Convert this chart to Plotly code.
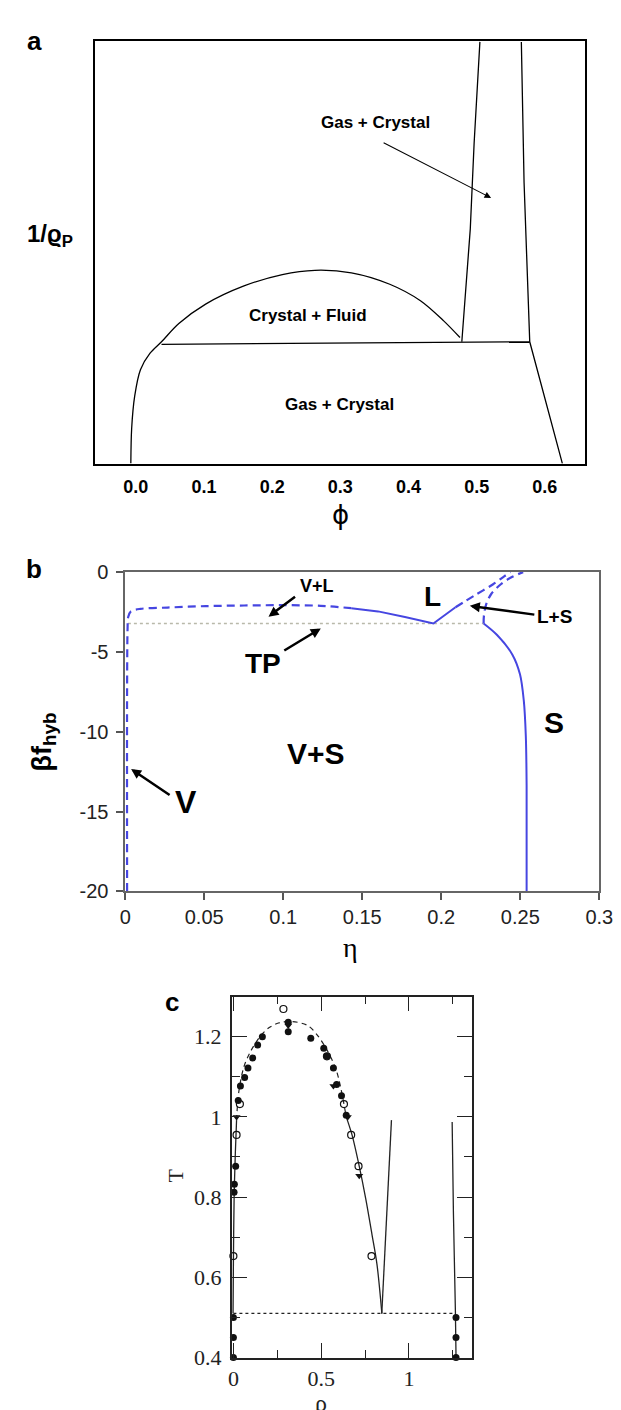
import plotly.graph_objects as go

W, H = 621, 1410

# ---------------- Panel a data ----------------
a_left_phi = [-0.0073, -0.0061, -0.0016, 0.0068, 0.0209, 0.0377, 0.0631, 0.1024, 0.1587,
              0.2149, 0.2628, 0.3162, 0.3725, 0.4175, 0.4512, 0.4755]
a_left_y = [0.0, 0.083, 0.160, 0.222, 0.261, 0.288, 0.331, 0.377, 0.420,
            0.447, 0.457, 0.451, 0.424, 0.385, 0.338, 0.298]
a_tie_phi = [0.0377, 0.4782, 0.5778]
a_tie_y = [0.282, 0.287, 0.288]
a_colL_phi = [0.4782, 0.4906, 0.4962, 0.5047]
a_colL_y = [0.288, 0.555, 0.757, 0.997]
a_colR_phi = [0.5655, 0.5695, 0.5778, 0.6257]
a_colR_y = [0.997, 0.664, 0.288, 0.0]
a_xticks = [0.0, 0.1, 0.2, 0.3, 0.4, 0.5, 0.6]

# ---------------- Panel b data ----------------
b_vl_eta = [0.0012, 0.0012, 0.0015, 0.0019, 0.0036, 0.0097, 0.0267, 0.051, 0.0752, 0.0994, 0.1237, 0.143]
b_vl_f = [-20, -7.2, -3.53, -2.81, -2.46, -2.30, -2.22, -2.13, -2.09, -2.07, -2.11, -2.26]
b_lsol_eta = [0.143, 0.160, 0.177, 0.195, 0.209]
b_lsol_f = [-2.26, -2.46, -2.81, -3.22, -2.2]
b_ldash_eta = [0.209, 0.2207, 0.2328, 0.240, 0.2438]
b_ldash_f = [-2.2, -1.48, -0.76, -0.25, 0.0]
b_sdash_eta = [0.2268, 0.2270, 0.2285, 0.2316, 0.2377, 0.245, 0.2518]
b_sdash_f = [-3.22, -2.71, -1.99, -1.37, -0.76, -0.29, 0.0]
b_ssol_eta = [0.2268, 0.2353, 0.245, 0.2498, 0.2522, 0.2535, 0.254, 0.254]
b_ssol_f = [-3.22, -3.94, -5.17, -6.4, -8.04, -10.3, -13.4, -20]
b_tp_eta = [0.0017, 0.2268]
b_tp_f = [-3.22, -3.22]
b_yticks = [0, -5, -10, -15, -20]
b_yticktext = ["0", "-5", "-10", "-15", "-20"]

# ---------------- Panel c data ----------------
c_dash_rho = [0.018, 0.03, 0.06, 0.10, 0.157, 0.202, 0.257, 0.33, 0.4225, 0.478, 0.533, 0.588, 0.643]
c_dash_T = [0.992, 1.06, 1.125, 1.165, 1.203, 1.222, 1.234, 1.238, 1.228, 1.204, 1.167, 1.114, 1.0]
c_gas_rho = [-0.002, 0.0, 0.004, 0.011, 0.018]
c_gas_T = [0.51, 0.633, 0.796, 0.91, 0.992]
c_liq_rho = [0.643, 0.676, 0.717, 0.754, 0.790, 0.818, 0.846]
c_liq_T = [1.0, 0.955, 0.877, 0.796, 0.706, 0.633, 0.510]
c_melt_rho = [0.8455, 0.9007]
c_melt_T = [0.509, 0.992]
c_sol_rho = [1.2466, 1.2537, 1.265, 1.2686]
c_sol_T = [0.9875, 0.763, 0.518, 0.404]
c_trip_rho = [0.0, 1.2686]
c_trip_T = [0.51, 0.51]
c_fill_rho = [0, 0, 0, 1.2686, 1.2686, 1.2686, 0.0037, 0.0055, 0.0129, 0.0276, 0.040, 0.064,
              0.083, 0.11, 0.138, 0.165, 0.3125, 0.3125, 0.441, 0.515, 0.533, 0.57, 0.588, 0.616, 0.643]
c_fill_T = [0.4, 0.45, 0.5, 0.4, 0.45, 0.5, 0.812, 0.832, 0.877, 1.041, 1.077, 1.098,
            1.122, 1.147, 1.179, 1.2, 1.236, 1.212, 1.196, 1.171, 1.151, 1.122, 1.081, 1.053, 1.004]
c_open_rho = [0.0, 0.018, 0.037, 0.285, 0.533, 0.63, 0.671, 0.713, 0.787]
c_open_T = [0.653, 0.955, 1.032, 1.269, 1.151, 1.032, 0.955, 0.877, 0.653]
c_tri_rho = [0.018, 0.3125, 0.57, 0.652, 0.717]
c_tri_T = [1.0, 1.228, 1.077, 1.0, 0.853]

BLUE = "rgb(70,70,225)"
SANS = "Liberation Sans, Arial, sans-serif"
SERIF = "Liberation Serif, Times New Roman, serif"

fig = go.Figure()


def line(x, y, xa, ya, color="black", width=1.3, dash="solid", shape="linear"):
    fig.add_trace(go.Scatter(x=x, y=y, xaxis=xa, yaxis=ya, mode="lines",
                             line=dict(color=color, width=width, dash=dash, shape=shape,
                                       smoothing=0.9 if shape == "spline" else None),
                             showlegend=False, hoverinfo="skip", cliponaxis=False))


# panel a
line(a_left_phi, a_left_y, "x", "y", shape="spline")
line(a_tie_phi, a_tie_y, "x", "y")
line(a_colL_phi, a_colL_y, "x", "y")
line(a_colR_phi, a_colR_y, "x", "y")

# panel b
dash_b = "8px,5px"
line(b_tp_eta, b_tp_f, "x2", "y2", color="rgb(185,185,170)", width=1.5, dash="dot")
line(b_vl_eta, b_vl_f, "x2", "y2", color=BLUE, width=2.2, dash=dash_b, shape="spline")
line(b_lsol_eta, b_lsol_f, "x2", "y2", color=BLUE, width=2)
line(b_ldash_eta, b_ldash_f, "x2", "y2", color=BLUE, width=2.2, dash=dash_b, shape="spline")
line(b_sdash_eta, b_sdash_f, "x2", "y2", color=BLUE, width=2.2, dash=dash_b, shape="spline")
line(b_ssol_eta, b_ssol_f, "x2", "y2", color=BLUE, width=2, shape="spline")

# panel c
line(c_trip_rho, c_trip_T, "x3", "y3", color="#222", width=1.3, dash="dot")
line(c_dash_rho, c_dash_T, "x3", "y3", color="#222", width=1.2, dash="5px,4px", shape="spline")
line(c_gas_rho, c_gas_T, "x3", "y3", color="#222", width=1.3, shape="spline")
line(c_liq_rho, c_liq_T, "x3", "y3", color="#222", width=1.3, shape="spline")
line(c_melt_rho, c_melt_T, "x3", "y3", color="#222", width=1.3)
line(c_sol_rho, c_sol_T, "x3", "y3", color="#222", width=1.3, shape="spline")
fig.add_trace(go.Scatter(x=c_fill_rho, y=c_fill_T, xaxis="x3", yaxis="y3", mode="markers",
                         marker=dict(symbol="circle", size=7, color="#111"),
                         showlegend=False, cliponaxis=False))
fig.add_trace(go.Scatter(x=c_open_rho, y=c_open_T, xaxis="x3", yaxis="y3", mode="markers",
                         marker=dict(symbol="circle-open", size=7, color="#111", line=dict(width=1.2)),
                         showlegend=False, cliponaxis=False))
fig.add_trace(go.Scatter(x=c_tri_rho, y=c_tri_T, xaxis="x3", yaxis="y3", mode="markers",
                         marker=dict(symbol="triangle-down", size=7, color="#111"),
                         showlegend=False, cliponaxis=False))


def dom_x(l, r):
    return [l / W, r / W]


def dom_y(t, b):
    return [1 - b / H, 1 - t / H]


def P(x, y):
    return x / W, 1 - y / H


annotations = []


def text(t, x, y, size, family=SANS, color="black", angle=0, yanchor="middle"):
    px, py = P(x, y)
    annotations.append(dict(text=t, x=px, y=py, xref="paper", yref="paper", showarrow=False,
                            xanchor="center", yanchor=yanchor, textangle=angle,
                            font=dict(size=size, family=family, color=color)))


def arrow(tx, ty, hx, hy, width=2.5, head=2, size=0.8, color="black"):
    px, py = P(hx, hy)
    annotations.append(dict(text="", x=px, y=py, xref="paper", yref="paper", showarrow=True,
                            ax=tx - hx, ay=ty - hy, axref="pixel", ayref="pixel",
                            arrowhead=head, arrowsize=size, arrowwidth=width, arrowcolor=color))


# panel a texts
text("<b>a</b>", 21, 22, 26)
text("<b>Gas + Crystal</b>", 374, 105, 17)
arrow(384, 126, 493, 182, width=1.1, head=2, size=1.2)
text("<b>Crystal + Fluid</b>", 304, 302, 17)
text("<b>Gas + Crystal</b>", 336, 392, 17)
text("<b>1/ϱ<sub>P</sub></b>", 37, 220, 24)
text("ϕ", 337, 505, 26, family="DejaVu Sans")

# panel b texts
text("<b>b</b>", 21, 560, 26)
text("<b>V+L</b>", 313, 577, 18)
arrow(291, 587, 263, 608)
text("<b>L</b>", 432, 587, 28)
text("<b>L+S</b>", 558, 608, 19)
arrow(537, 606, 471, 597)
text("<b>TP</b>", 257, 656, 28)
arrow(279, 643, 317, 620)
text("<b>V+S</b>", 312, 747, 30)
text("<b>S</b>", 558, 716, 30)
text("<b>V</b>", 178, 797, 32)
arrow(161, 790, 121, 763)
text("<b>βf<sub>hyb</sub></b>", 31, 736, 27, angle=-90)
text("η", 348, 945, 28, family=SERIF)

# panel c texts
text("<b>c</b>", 163, 1000, 26)
text("T", 167, 1177, 22, family=SERIF, color="#222", angle=-90)
text("ρ", 317, 1393, 24, family=SERIF, color="#222", yanchor="top")

fig.update_layout(
    width=W, height=H, margin=dict(l=0, r=0, t=0, b=0),
    paper_bgcolor="white", plot_bgcolor="white", showlegend=False,
    annotations=annotations,
    xaxis=dict(domain=dom_x(83.6, 590.1), anchor="y", range=[-0.060, 0.659],
               tickvals=a_xticks, tickformat=".1f", ticks="", showgrid=False, zeroline=False,
               showline=True, mirror=True, linecolor="black", linewidth=1.5,
               tickfont=dict(family=SANS, size=18, color="black", weight="bold"),
               ticklabelstandoff=6),
    yaxis=dict(domain=dom_y(22, 452.3), anchor="x", range=[0, 1], showticklabels=False,
               ticks="", showgrid=False, zeroline=False, showline=True, mirror=True,
               linecolor="black", linewidth=1.5),
    xaxis2=dict(domain=dom_x(114.9, 604.8), anchor="y2", range=[0, 0.3], dtick=0.05,
                tick0=0, ticks="outside", ticklen=7, tickcolor="#555", tickwidth=1.5,
                showgrid=False, zeroline=False, showline=True, mirror=True,
                linecolor="#666", linewidth=1.5,
                tickfont=dict(family=SANS, size=20, color="#222")),
    yaxis2=dict(domain=dom_y(562.7, 887.5), anchor="x2", range=[-20, 0],
                tickvals=b_yticks, ticktext=b_yticktext, ticks="outside", ticklen=7,
                tickcolor="#555", tickwidth=1.5, showgrid=False, zeroline=False,
                showline=True, mirror=True, linecolor="#666", linewidth=1.5,
                tickfont=dict(family=SANS, size=20, color="#222"), ticklabelstandoff=4),
    xaxis3=dict(domain=dom_x(225, 473.3), anchor="y3", range=[-0.0094, 1.36],
                tickvals=[0, 0.5, 1], ticks="inside", ticklen=15, tickwidth=1.3, tickcolor="#222",
                minor=dict(tickvals=[0.25, 0.75, 1.25], ticks="inside", ticklen=8,
                           tickcolor="#222", tickwidth=1.3),
                showgrid=False, zeroline=False, showline=True, mirror="ticks",
                linecolor="#222", linewidth=1.5,
                tickfont=dict(family=SERIF, size=22, color="#222")),
    yaxis3=dict(domain=dom_y(994.5, 1361.7), anchor="x3", range=[0.4, 1.3],
                tickvals=[0.4, 0.6, 0.8, 1.0, 1.2], ticks="inside", ticklen=15, tickwidth=1.3,
                tickcolor="#222",
                minor=dict(tickvals=[0.5, 0.7, 0.9, 1.1], ticks="inside", ticklen=8,
                           tickcolor="#222", tickwidth=1.3),
                showgrid=False, zeroline=False, showline=True, mirror="ticks",
                linecolor="#222", linewidth=1.5,
                tickfont=dict(family=SERIF, size=22, color="#222"), ticklabelstandoff=4),
)

fig.write_html("out.html")
